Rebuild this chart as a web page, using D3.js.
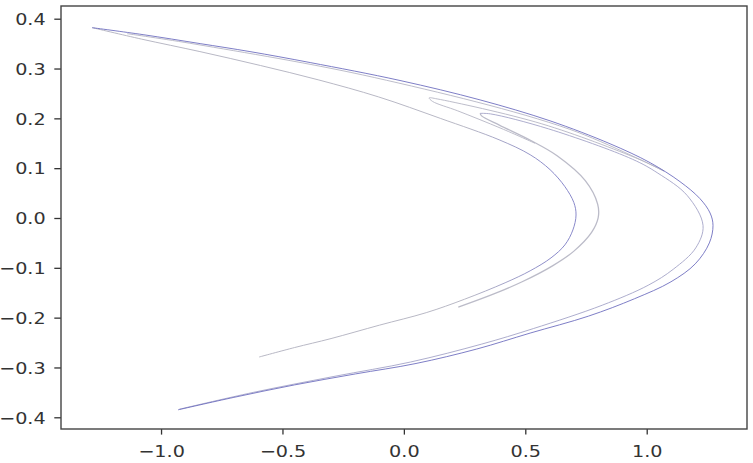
<!DOCTYPE html>
<html>
<head>
<meta charset="utf-8">
<script src="https://cdn.jsdelivr.net/npm/d3@7"></script>
<style>
  body { margin: 0; background: #fff; }
  svg { display: block; }
</style>
</head>
<body>
<svg id="chart"></svg>
<script>
// strands of the attractor as [x, y]
var outerArc = [[-1.284,0.382],[-1.074,0.368],[-0.839,0.350],[-0.634,0.334],[-0.386,0.312],[-0.016,0.276],[0.314,0.237],[0.602,0.195],[0.849,0.149],[1.014,0.111],[1.137,0.073],[1.219,0.039],[1.261,0.010],[1.273,-0.015],[1.258,-0.050],[1.200,-0.092],[1.100,-0.128],[0.950,-0.162],[0.760,-0.197],[0.520,-0.231],[0.300,-0.263],[0.050,-0.292],[-0.200,-0.313],[-0.450,-0.335],[-0.700,-0.360],[-0.930,-0.385]];
var secondArc = [[0.314,0.210],[0.356,0.209],[0.595,0.179],[0.941,0.118],[1.046,0.090],[1.167,0.045],[1.232,-0.015],[1.202,-0.060],[1.109,-0.103],[1.006,-0.135],[0.817,-0.175],[0.533,-0.222],[0.321,-0.253],[0.028,-0.289],[-0.288,-0.318],[-0.620,-0.350],[-0.926,-0.384]];
var thirdArc = [[-1.140,0.370],[-0.860,0.349],[-0.122,0.282],[0.683,0.178],[1.072,0.094],[0.968,0.118],[0.568,0.189],[0.137,0.239],[0.104,0.241],[0.118,0.234],[0.222,0.215],[0.400,0.180],[0.540,0.150]];
var innerArc = [[-1.283,0.382],[-1.080,0.359],[-0.840,0.334],[-0.590,0.306],[-0.350,0.277],[-0.104,0.243],[0.150,0.200],[0.392,0.157],[0.520,0.127],[0.602,0.097],[0.663,0.063],[0.700,0.031],[0.709,0.006],[0.696,-0.024],[0.663,-0.054],[0.606,-0.080],[0.520,-0.106],[0.417,-0.130],[0.250,-0.163],[0.092,-0.190],[-0.100,-0.215],[-0.300,-0.242],[-0.450,-0.260],[-0.596,-0.279]];
var middleArc = [[0.314,0.210],[0.320,0.205],[0.395,0.186],[0.521,0.156],[0.631,0.125],[0.747,0.075],[0.798,0.028],[0.800,0.000],[0.773,-0.029],[0.699,-0.067],[0.612,-0.096],[0.487,-0.128],[0.368,-0.153],[0.224,-0.179]];

var xTicks = [-1.0, -0.5, 0.0, 0.5, 1.0];
var yTicks = [-0.4, -0.3, -0.2, -0.1, 0.0, 0.1, 0.2, 0.3, 0.4];

var w = 753, h = 463;
var padL = 61, padR = 747, padT = 6, padB = 429;

var svg = d3.select("#chart").attr("width", w).attr("height", h);

var x = d3.scaleLinear().domain([-1.412, 1.413]).range([padL, padR]);
var y = d3.scaleLinear().domain([-0.4235, 0.4255]).range([padB, padT]);

// inner arc is grey on its arms and turns blue round its tip
var grad = svg.append("defs").append("linearGradient")
    .attr("id", "innerGrad")
    .attr("gradientUnits", "userSpaceOnUse")
    .attr("x1", x(0.25)).attr("y1", 0)
    .attr("x2", x(0.62)).attr("y2", 0);
grad.append("stop").attr("offset", 0).attr("stop-color", "#b0b0be");
grad.append("stop").attr("offset", 1).attr("stop-color", "#7c7cc4");

var line = d3.line()
    .x(function(d) { return x(d[0]); })
    .y(function(d) { return y(d[1]); })
    .curve(d3.curveCatmullRom.alpha(0.5));

var strands = [
  {pts: thirdArc,  color: "#b6b6c4", width: 1.0},
  {pts: middleArc, color: "#b4b4c2", width: 1.3},
  {pts: innerArc,  color: "url(#innerGrad)", width: 1.0},
  {pts: secondArc, color: "#a4a4c8", width: 1.0},
  {pts: outerArc,  color: "#7070c0", width: 1.0}
];

svg.selectAll("path.strand")
    .data(strands)
    .enter()
    .append("path")
    .attr("class", "strand")
    .attr("d", function(d) { return line(d.pts); })
    .attr("fill", "none")
    .attr("stroke", function(d) { return d.color; })
    .attr("stroke-width", function(d) { return d.width; })
    .attr("stroke-opacity", 0.9);

var fmt = d3.format(".1f");

var xAxis = svg.append("g")
    .attr("transform", "translate(0," + padB + ")")
    .call(d3.axisBottom(x).tickValues(xTicks).tickFormat(fmt).tickSize(5.6).tickSizeOuter(0));
xAxis.select(".domain").remove();
xAxis.selectAll("line").attr("stroke", "#333").attr("stroke-width", 1.3);
xAxis.selectAll("text")
    .attr("y", 28).attr("dy", 0)
    .attr("transform", "scale(1.2,1)")
    .attr("fill", "#333")
    .style("font-family", "DejaVu Sans")
    .style("font-size", "16px");

var yAxis = svg.append("g")
    .attr("transform", "translate(" + padL + ",0)")
    .call(d3.axisLeft(y).tickValues(yTicks).tickFormat(fmt).tickSize(6.7).tickSizeOuter(0));
yAxis.select(".domain").remove();
yAxis.selectAll("line").attr("stroke", "#333").attr("stroke-width", 1.3);
yAxis.selectAll("text")
    .attr("x", -12.8).attr("dy", "0.36em")
    .attr("transform", "scale(1.2,1)")
    .attr("fill", "#333")
    .style("font-family", "DejaVu Sans")
    .style("font-size", "16px");

svg.append("rect")
    .attr("x", padL).attr("y", padT)
    .attr("width", padR - padL).attr("height", padB - padT)
    .attr("fill", "none")
    .attr("stroke", "#444")
    .attr("stroke-width", 1.4);
</script>
</body>
</html>
